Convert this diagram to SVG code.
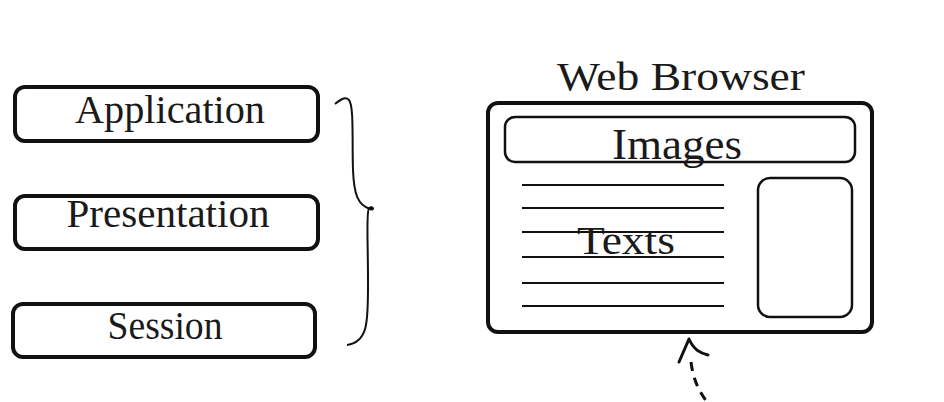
<svg xmlns="http://www.w3.org/2000/svg" width="944" height="402" viewBox="0 0 944 402">
<style>
.lbl{font-family:"Liberation Serif","Times New Roman",serif;font-size:41px;fill:#1a1a1a;text-anchor:middle}
.big{font-size:44px}
.box{fill:#fff;stroke:#111;stroke-width:4}
.thin{fill:none;stroke:#111;stroke-width:2.5}
.ln{stroke:#111;stroke-width:2;fill:none}
</style>
<rect width="944" height="402" fill="#fff"/>
<g id="application">
<rect class="box" x="15" y="87" width="303" height="54" rx="10"/>
<text class="lbl" x="170" y="123" textLength="190" lengthAdjust="spacingAndGlyphs">Application</text>
</g>
<g id="presentation">
<rect class="box" x="15" y="196" width="303" height="53" rx="10"/>
<text class="lbl" x="168" y="227" textLength="203" lengthAdjust="spacingAndGlyphs">Presentation</text>
</g>
<g id="session">
<rect class="box" x="13" y="304" width="302" height="53" rx="10"/>
<text class="lbl" x="165" y="339" textLength="115" lengthAdjust="spacingAndGlyphs">Session</text>
</g>
<g id="brace">
<path class="ln" d="M335 104 C340 100 345 96 349 100 C354 106 352 140 353 170 C354 195 358 205 370 209 C375 211 373 205 369 208 C366 212 368 240 368 280 C368 320 369 342 347 345"/>
</g>
<g id="web-browser">
<text class="lbl" x="681" y="90" textLength="248" lengthAdjust="spacingAndGlyphs">Web Browser</text>
<rect class="box" x="488" y="103" width="384" height="229" rx="10"/>
<rect class="thin" x="505" y="117" width="350" height="45" rx="10"/>
<text class="lbl big" x="677" y="159" textLength="130" lengthAdjust="spacingAndGlyphs">Images</text>
<line class="ln" x1="522" y1="185" x2="724" y2="185"/>
<line class="ln" x1="522" y1="208" x2="724" y2="208"/>
<line class="ln" x1="522" y1="232" x2="724" y2="232"/>
<line class="ln" x1="522" y1="257" x2="724" y2="257"/>
<line class="ln" x1="522" y1="283" x2="724" y2="283"/>
<line class="ln" x1="522" y1="306" x2="724" y2="306"/>
<text class="lbl" x="626" y="254" textLength="98" lengthAdjust="spacingAndGlyphs">Texts</text>
<rect class="thin" x="758" y="178" width="94" height="139" rx="12"/>
</g>
<g id="connectors">
<path d="M691 362 C693 378 698 390 707 402" fill="none" stroke="#111" stroke-width="3" stroke-dasharray="9 7"/>
<path d="M679 362 L689 339 C694 350 700 353 708 355" fill="none" stroke="#111" stroke-width="3" stroke-linecap="round" stroke-linejoin="round"/>
</g>
</svg>
